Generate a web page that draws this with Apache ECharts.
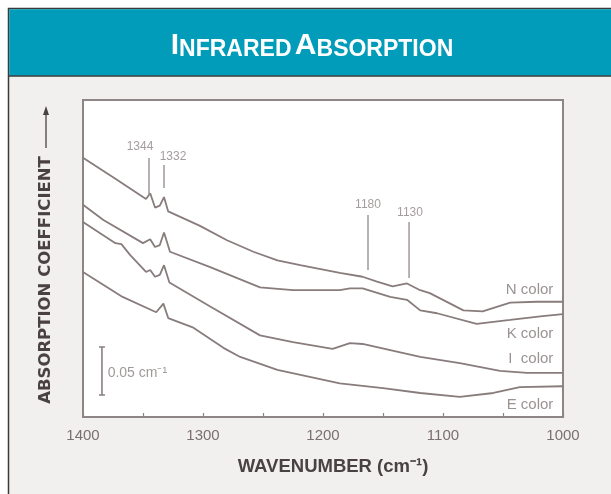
<!DOCTYPE html>
<html>
<head>
<meta charset="utf-8">
<script src="https://cdn.jsdelivr.net/npm/echarts@6/dist/echarts.min.js"></script>
<style>
html,body{margin:0;padding:0;background:#fff;}
#chart{width:611px;height:494px;}
</style>
</head>
<body>
<div id="chart"></div>
<script>
// ---- data (wavenumber cm^-1, absorption coefficient cm^-1) ----
const seriesNames = ['N color', 'K color', 'I  color', 'E color'];
const nColor = [[1400,0.270],[1373,0.248],[1347.5,0.227],[1344,0.233],[1340,0.218],[1336,0.220],[1332.5,0.229],[1329,0.214],[1313,0.205],[1302.5,0.199],[1280,0.184],[1258,0.172],[1238,0.163],[1219,0.158],[1186,0.150],[1167,0.146],[1155,0.141],[1142,0.136],[1130,0.139],[1119,0.132],[1111,0.129],[1083,0.111],[1067,0.110],[1044,0.119],[1022,0.120],[1000,0.120]];
const kColor = [[1400,0.221],[1383,0.205],[1350,0.181],[1344,0.185],[1340,0.177],[1336,0.179],[1332.5,0.192],[1327.5,0.172],[1294,0.156],[1252.5,0.135],[1225,0.132],[1186,0.132],[1177.5,0.134],[1167,0.134],[1144,0.125],[1130,0.122],[1119,0.111],[1105,0.108],[1072,0.097],[1044,0.101],[1017,0.105],[1000,0.107]];
const iColor = [[1400,0.203],[1373,0.181],[1368,0.180],[1361,0.169],[1347.5,0.151],[1344,0.153],[1340,0.146],[1336,0.148],[1332.5,0.158],[1328,0.140],[1294,0.115],[1252.5,0.085],[1225,0.078],[1192,0.071],[1177.5,0.077],[1167,0.076],[1119,0.0625],[1086,0.056],[1052.5,0.048],[1030,0.046],[1000,0.046]];
const eColor = [[1400,0.151],[1367,0.125],[1339,0.109],[1333,0.118],[1329,0.103],[1308,0.093],[1283,0.072],[1269,0.0625],[1238,0.049],[1186,0.035],[1150,0.030],[1119,0.025],[1086,0.021],[1058,0.025],[1036,0.031],[1000,0.032]];
// curve name labels: [x, y, text]
const curveLabels = [[1008,0.132,'N color'],[1008,0.087,'K color'],[1008,0.061,'I  color'],[1008,0.0125,'E color']];
// peak annotations
const peakLabelText = ['1344','1332','1180','1130'];
const peakLineX = [1345,1332.5,1162.5,1128.3];
const peakLineTop = [0.2696,0.2623,0.2103,0.2030];
const peakLineBottom = [0.2311,0.2384,0.1530,0.1447];
const peakLabelPos = [[1352.5,0.281],[1325,0.2707],[1162.5,0.2207],[1127.5,0.2124]];
// scale bar 0.05 cm^-1
const scaleBarX = 1384.2;
const scaleBarFrom = 0.0229;
const scaleBarTo = 0.0729;
const scaleBarText = '0.05 cm⁻¹';
const xTicks = [1400,1300,1200,1100,1000];

const curveColor = '#887c7c';
const annoColor = '#8f8585';
const chart = echarts.init(document.getElementById('chart'), null, {renderer:'canvas'});

const curveData = [nColor, kColor, iColor, eColor];
const series = curveData.map((d, i) => ({
  name: seriesNames[i], type: 'line', data: d, symbol: 'none', smooth: false,
  lineStyle: {color: curveColor, width: 1.8}, z: 3, silent: true
}));

// peak annotation lines
peakLineX.forEach((x, i) => {
  series.push({
    type: 'line', data: [[x, peakLineTop[i]], [x, peakLineBottom[i]]], symbol: 'none',
    lineStyle: {color: '#9a9090', width: 1.4}, z: 3, silent: true
  });
});
// peak labels
series.push({
  type: 'scatter', symbolSize: 0.1, itemStyle: {color: 'transparent'}, silent: true,
  data: peakLabelPos.map((p, i) => [p[0], p[1], peakLabelText[i]]),
  label: {show: true, position: 'inside', formatter: p => p.value[2],
    color: annoColor, fontSize: 12, fontFamily: 'Liberation Sans'}
});
// curve name labels
series.push({
  type: 'scatter', symbolSize: 0.1, itemStyle: {color: 'transparent'}, silent: true,
  data: curveLabels,
  label: {show: true, position: 'left', distance: 0, formatter: p => p.value[2],
    color: '#827777', fontSize: 15, fontFamily: 'Liberation Sans'}
});
// scale bar
series.push({
  type: 'line', data: [[scaleBarX, scaleBarFrom], [scaleBarX, scaleBarTo]],
  symbol: 'rect', symbolSize: [6, 1.5], showSymbol: true,
  itemStyle: {color: '#8a7f7f'}, lineStyle: {color: '#8a7f7f', width: 1.6}, z: 3, silent: true
});
series.push({
  type: 'scatter', symbolSize: 0.1, itemStyle: {color: 'transparent'}, silent: true,
  data: [[1379.5, (scaleBarFrom + scaleBarTo) / 2 - 0.002, scaleBarText]],
  label: {show: true, position: 'right', distance: 0, formatter: p => p.value[2],
    color: '#8a7f7f', fontSize: 14, fontFamily: 'Liberation Sans'}
});

const option = {
  animation: false,
  backgroundColor: 'transparent',
  graphic: {elements: [
    {type: 'rect', z: -20, shape: {x: 8.5, y: 8.5, width: 620, height: 500},
     style: {fill: '#f2efef', stroke: '#3a3a3a', lineWidth: 1.5}},
    {type: 'rect', z: -19, shape: {x: 9.25, y: 9.25, width: 620, height: 66.5},
     style: {fill: '#009cb9'}},
    {type: 'line', z: -18, shape: {x1: 9, y1: 76, x2: 611, y2: 76},
     style: {stroke: '#2f3a3c', lineWidth: 1.5}},
    {type: 'text', z: 10, x: 312, y: 46,
     style: {text: '{b|I}{s|NFRARED} {b|A}{s|BSORPTION}', fill: '#ffffff',
       textAlign: 'center', textVerticalAlign: 'middle',
       rich: {
         b: {fontSize: 30, fontWeight: 'bold', fontFamily: 'Liberation Sans', fill: '#fff', lineHeight: 30, verticalAlign: 'bottom'},
         s: {fontSize: 23, fontWeight: 'bold', fontFamily: 'Liberation Sans', fill: '#fff', lineHeight: 30, verticalAlign: 'bottom'}
       }}},
    {type: 'text', z: 10, x: 46, y: 280, rotation: Math.PI / 2,
     style: {text: 'ABSORPTION COEFFICIENT', fill: '#4a4242', font: 'bold 16.5px "DejaVu Sans"',
       textAlign: 'center', textVerticalAlign: 'middle'}},
    {type: 'line', z: 10, shape: {x1: 46, y1: 148, x2: 46, y2: 112},
     style: {stroke: '#4a4242', lineWidth: 1.3}},
    {type: 'polygon', z: 10, shape: {points: [[46, 106], [43, 115], [49, 115]]},
     style: {fill: '#4a4242'}}
  ]},
  grid: {left: 83, right: 48, top: 100, bottom: 77, show: true, backgroundColor: '#ffffff',
    borderColor: '#8e8585', borderWidth: 2},
  xAxis: {
    type: 'value', min: 1000, max: 1400, interval: 100, inverse: true,
    name: 'WAVENUMBER (cm⁻¹)', nameLocation: 'middle', nameGap: 40,
    nameTextStyle: {fontSize: 18.5, fontWeight: 'bold', color: '#4a4242', fontFamily: 'Liberation Sans', padding: [0, 0, 0, 20]},
    axisLine: {show: true, lineStyle: {color: '#8e8585', width: 2}},
    axisTick: {show: true, inside: true, length: 4, lineStyle: {color: '#8e8585', width: 1.2}},
    minorTick: {show: true, splitNumber: 2, length: 4, lineStyle: {color: '#8e8585', width: 1.2}},
    axisLabel: {margin: 11, color: '#7a7070', fontSize: 15, fontFamily: 'Liberation Sans',
      formatter: v => xTicks.includes(v) ? String(v) : ''},
    splitLine: {show: false}
  },
  yAxis: {
    type: 'value', min: 0, max: 0.33,
    axisLine: {show: true, lineStyle: {color: '#8e8585', width: 2}},
    axisTick: {show: false}, axisLabel: {show: false}, splitLine: {show: false}
  },
  series: series
};
chart.setOption(option);
</script>
</body>
</html>
